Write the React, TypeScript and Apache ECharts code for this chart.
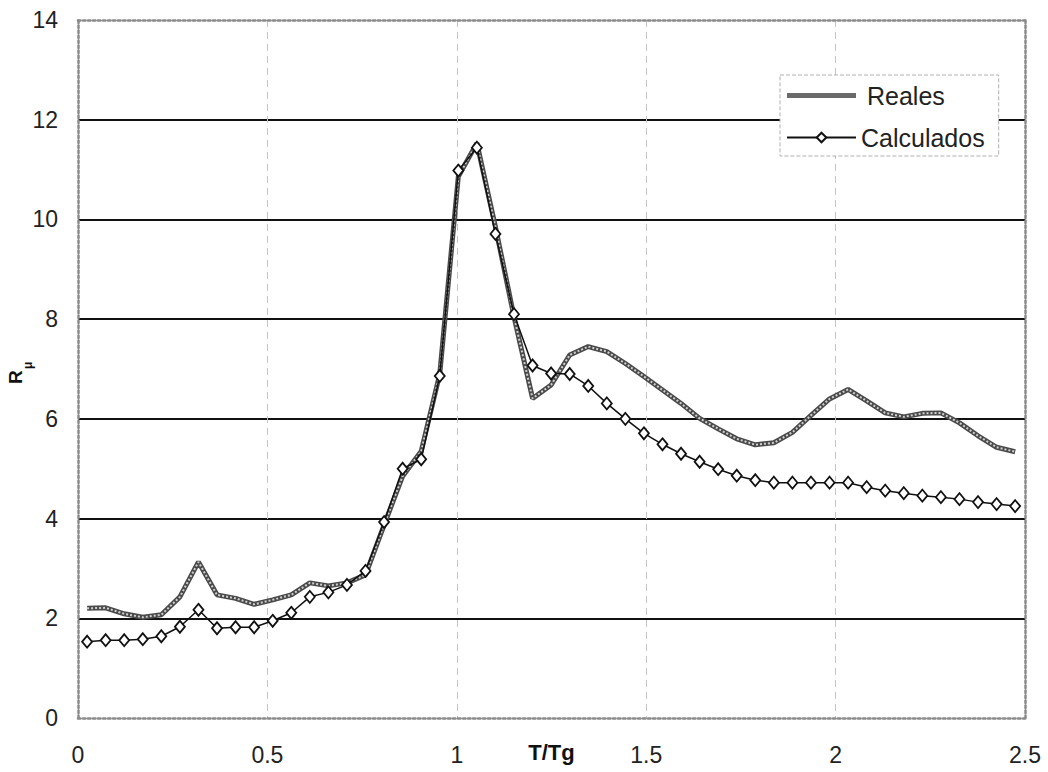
import React, { useEffect, useRef } from "react";
import * as echarts from "echarts";

const xValues = [
  0.024, 0.073, 0.122, 0.171, 0.22, 0.269, 0.318, 0.367, 0.416, 0.465, 0.514,
  0.563, 0.612, 0.661, 0.71, 0.759, 0.808, 0.857, 0.906, 0.955, 1.004, 1.053,
  1.102, 1.151, 1.2, 1.249, 1.298, 1.347, 1.396, 1.445, 1.494, 1.543, 1.592,
  1.641, 1.69, 1.739, 1.788, 1.837, 1.886, 1.935, 1.984, 2.033, 2.082, 2.131,
  2.18, 2.229, 2.278, 2.327, 2.376, 2.425, 2.474,
];

const reales = [
  2.2, 2.21, 2.09, 2.02, 2.07, 2.43, 3.13, 2.47, 2.4, 2.28, 2.37, 2.47, 2.71,
  2.65, 2.71, 2.87, 3.87, 4.85, 5.35, 6.9, 10.86, 11.53, 9.85, 8.05, 6.41, 6.68,
  7.28, 7.45, 7.35, 7.11, 6.85, 6.58, 6.31, 6.01, 5.8, 5.6, 5.48, 5.52, 5.73,
  6.07, 6.4, 6.59, 6.36, 6.12, 6.04, 6.11, 6.12, 5.92, 5.66, 5.43, 5.34,
];

const calculados = [
  1.53, 1.56, 1.56, 1.58, 1.64, 1.83, 2.17, 1.8, 1.82, 1.82, 1.95, 2.11, 2.43,
  2.52, 2.67, 2.95, 3.93, 5.0, 5.19, 6.86, 10.98, 11.44, 9.71, 8.1, 7.07, 6.91,
  6.9, 6.66, 6.31, 6.0, 5.71, 5.49, 5.3, 5.14, 4.99, 4.86, 4.77, 4.72, 4.72,
  4.72, 4.72, 4.72, 4.63, 4.56, 4.51, 4.46, 4.43, 4.39, 4.33, 4.29, 4.25,
];

const seriesNames = ["Reales", "Calculados"];
const xAxisTitle = "T/Tg";

const FONT = "'Liberation Sans', Arial, Helvetica, sans-serif";
const REALES_DARK = "#4a4a4a";
const REALES_LIGHT = "#cfcfcf";

export default function App() {
  const ref = useRef<HTMLDivElement>(null);

  useEffect(() => {
    if (!ref.current) return;
    const chart = echarts.init(ref.current, undefined, { renderer: "svg" });

    const pair = (ys: number[]) => xValues.map((x, i) => [x, ys[i]]);
    const frameLine = {
      show: true,
      onZero: false,
      lineStyle: { color: "#8a8a8a", width: 2.5, type: "dotted" as const },
    };

    chart.setOption({
      animation: false,
      backgroundColor: "#fff",
      textStyle: { fontFamily: FONT },
      grid: { left: 78, right: 23, top: 20, bottom: 54, outerBoundsMode: "none", containLabel: false },
      legend: {
        orient: "vertical",
        left: 780,
        top: 75,
        data: [
          {
            name: seriesNames[0],
            icon: "path://M0,0H69V5H0Z",
            itemStyle: { color: "#6a6a6a" },
            textStyle: { padding: [0, 0, 0, 6] },
          },
          { name: seriesNames[1] },
        ],
        backgroundColor: "#fff",
        borderColor: "#b0b0b0",
        borderWidth: 1,
        borderType: "dashed",
        padding: [8, 14, 6, 6],
        itemWidth: 69,
        itemHeight: 12,
        itemGap: 17,
        textStyle: { fontSize: 25, color: "#222", fontFamily: FONT },
      },
      xAxis: [
        {
          type: "value",
          min: 0,
          max: 2.5,
          interval: 0.5,
          name: xAxisTitle,
          nameLocation: "middle",
          nameGap: 23,
          nameMoveOverlap: false,
          nameTextStyle: { fontSize: 22, fontWeight: "bold", color: "#111", fontFamily: FONT },
          axisLine: frameLine,
          axisTick: { show: false },
          axisLabel: { fontSize: 23, color: "#222", margin: 25, fontFamily: FONT },
          splitLine: {
            show: true,
            showMinLine: false,
            showMaxLine: false,
            lineStyle: { color: "#c4c4c4", width: 1, type: [7, 5] },
          },
        },
        {
          type: "value",
          position: "top",
          min: 0,
          max: 2.5,
          interval: 0.5,
          axisLine: frameLine,
          axisTick: { show: false },
          axisLabel: { show: false },
          splitLine: { show: false },
        },
      ],
      yAxis: [
        {
          type: "value",
          min: 0,
          max: 14,
          interval: 2,
          axisLine: frameLine,
          axisTick: { show: false },
          axisLabel: { fontSize: 23, color: "#222", margin: 20, fontFamily: FONT },
          splitLine: {
            show: true,
            showMinLine: false,
            showMaxLine: false,
            lineStyle: { color: "#111", width: 2 },
          },
        },
        {
          type: "value",
          position: "right",
          min: 0,
          max: 14,
          interval: 2,
          axisLine: frameLine,
          axisTick: { show: false },
          axisLabel: { show: false },
          splitLine: { show: false },
        },
      ],
      graphic: [
        {
          type: "group",
          x: 25,
          y: 384,
          rotation: Math.PI / 2,
          children: [
            {
              type: "text",
              x: 0,
              y: 0,
              style: {
                text: "R",
                font: `bold 19px ${FONT}`,
                fill: "#111",
                textAlign: "left",
                textVerticalAlign: "bottom",
              },
            },
            {
              type: "text",
              x: 15,
              y: 9,
              style: {
                text: "μ",
                font: `bold 12px ${FONT}`,
                fill: "#111",
                textAlign: "left",
                textVerticalAlign: "bottom",
              },
            },
          ],
        },
      ],
      series: [
        {
          name: seriesNames[0],
          type: "line",
          data: pair(reales),
          symbol: "none",
          lineStyle: { color: REALES_DARK, width: 5 },
          itemStyle: { color: REALES_DARK },
          z: 2,
        },
        {
          name: "RealesInner",
          type: "line",
          data: pair(reales),
          symbol: "none",
          lineStyle: { color: REALES_LIGHT, width: 2, type: [2, 2] },
          itemStyle: { color: REALES_LIGHT },
          silent: true,
          z: 3,
        },
        {
          name: seriesNames[1],
          type: "line",
          data: pair(calculados),
          symbol: "diamond",
          symbolSize: [10, 12],
          showAllSymbol: true,
          lineStyle: { color: "#111", width: 1.5 },
          itemStyle: { color: "#fff", borderColor: "#111", borderWidth: 1.8 },
          z: 4,
        },
      ],
    });

    return () => chart.dispose();
  }, []);

  return (
    <div
      ref={ref}
      style={{ position: "fixed", left: 0, top: 0, width: 1048, height: 772, background: "#fff" }}
    />
  );
}
